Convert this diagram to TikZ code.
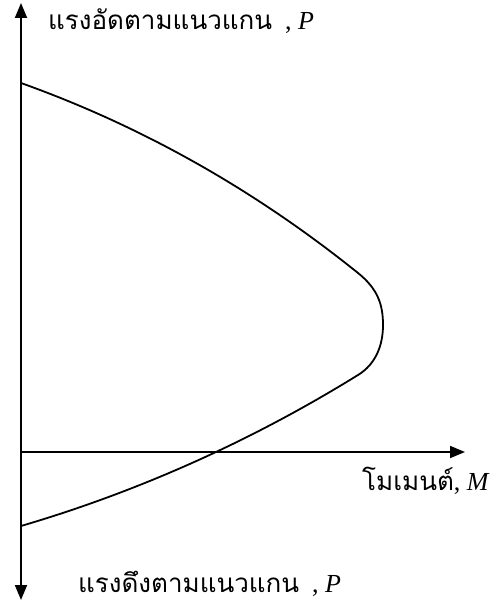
\documentclass[tikz,border=0pt]{standalone}
\usepackage{fontspec}
\setmainfont{Liberation Serif}
\newfontfamily\thaifont[Script=Thai]{Loma}
\usetikzlibrary{arrows.meta}
\tikzset{
  axis/.style={line width=1.8pt},
  tip/.style={-{Triangle[length=15pt,width=12pt]}},
  lbl/.style={anchor=base west,inner sep=0pt,font=\fontsize{26}{30}\selectfont}
}
\begin{document}
\begin{tikzpicture}[x=1pt,y=-1pt]
\useasboundingbox (0,0) rectangle (495,604);
\coordinate (o) at (21,452);
\coordinate (ptop) at (21,3);
\coordinate (pbot) at (21,600);
\coordinate (mend) at (465,452);
\draw[axis,{Triangle[length=15pt,width=12pt]}-{Triangle[length=15pt,width=12pt]}] (pbot) -- (ptop);
\draw[axis,tip] (o) -- (mend);
% interaction curve
\coordinate (c0) at (21,83);
\coordinate (c1) at (358,273);
\coordinate (c2) at (383,325);
\coordinate (c3) at (358,375);
\coordinate (c4) at (21,526);
\draw[axis] (c0) .. controls (144,127) and (256,191) .. (c1)
  .. controls (378,289) and (383,305) .. (c2)
  .. controls (383,345) and (376,364) .. (c3)
  .. controls (253,440) and (140,491) .. (c4);
\node[lbl] (lblc) at (48,30) {{\thaifont แรงอัดตามแนวแกน}\ \ , \textit{P}};
\node[lbl] (lblt) at (78,592) {{\thaifont แรงดึงตามแนวแกน}\ \ , \textit{P}};
\node[lbl] (lblm) at (362,490) {{\thaifont โมเมนต์}, \textit{M}};
\end{tikzpicture}
\end{document}
